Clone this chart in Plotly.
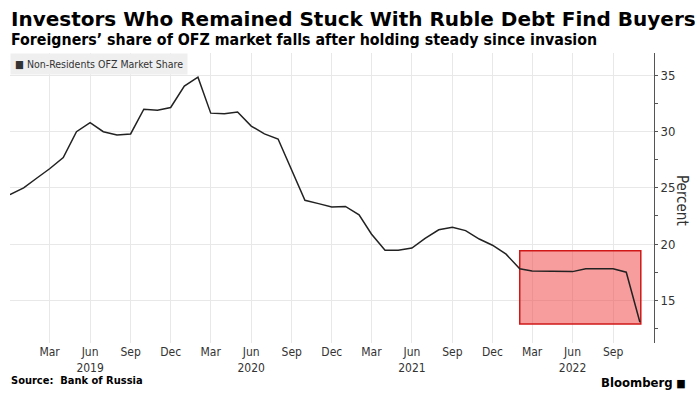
import plotly.graph_objects as go

# Monthly data, Dec 2018 .. Nov 2022 (month starts)
months = ["2018-12-01", "2019-01-01", "2019-02-01", "2019-03-01", "2019-04-01", "2019-05-01",
          "2019-06-01", "2019-07-01", "2019-08-01", "2019-09-01", "2019-10-01", "2019-11-01",
          "2019-12-01", "2020-01-01", "2020-02-01", "2020-03-01", "2020-04-01", "2020-05-01",
          "2020-06-01", "2020-07-01", "2020-08-01", "2020-09-01", "2020-10-01", "2020-11-01",
          "2020-12-01", "2021-01-01", "2021-02-01", "2021-03-01", "2021-04-01", "2021-05-01",
          "2021-06-01", "2021-07-01", "2021-08-01", "2021-09-01", "2021-10-01", "2021-11-01",
          "2021-12-01", "2022-01-01", "2022-02-01", "2022-03-01", "2022-04-01", "2022-05-01",
          "2022-06-01", "2022-07-01", "2022-08-01", "2022-09-01", "2022-10-01", "2022-11-01"]
share = [24.4, 25.0, 25.9, 26.7, 27.7, 30.0,
         30.8, 30.0, 29.7, 29.8, 32.0, 31.9,
         32.15, 34.05, 34.85, 31.65, 31.6, 31.75,
         30.5, 29.8, 29.35, 26.6, 23.9, 23.6,
         23.3, 23.35, 22.6, 20.9, 19.45, 19.45,
         19.65, 20.5, 21.27, 21.5, 21.2, 20.45,
         19.9, 19.1, 17.8, 17.6, 17.6, 17.6,
         17.55, 17.8, 17.8, 17.8, 17.5, 13.05]

tick_dates = ["2019-03-01", "2019-06-01", "2019-09-01", "2019-12-01",
              "2020-03-01", "2020-06-01", "2020-09-01", "2020-12-01",
              "2021-03-01", "2021-06-01", "2021-09-01", "2021-12-01",
              "2022-03-01", "2022-06-01", "2022-09-01"]
tick_labels = ["Mar", "Jun<br>2019", "Sep", "Dec",
               "Mar", "Jun<br>2020", "Sep", "Dec",
               "Mar", "Jun<br>2021", "Sep", "Dec",
               "Mar", "Jun<br>2022", "Sep"]

y_ticks = [15, 20, 25, 30, 35]

# Highlight box (post-invasion period)
box_x = ["2022-02-01", "2022-11-03"]
box_y = [12.9, 19.4]

series_name = "Non-Residents OFZ Market Share"

fig = go.Figure()
fig.add_trace(go.Scatter(x=months, y=share, mode="lines", name=series_name,
                         line=dict(color="#222222", width=1.5),
                         showlegend=False))

fig.add_shape(type="rect", xref="x", yref="y",
              x0=box_x[0], x1=box_x[1], y0=box_y[0], y1=box_y[1],
              fillcolor="rgba(242,60,60,0.5)",
              line=dict(color="#d01818", width=1.5), layer="between")

font_main = "DejaVu Sans Condensed, Liberation Sans, Arial, sans-serif"
font_title = "DejaVu Sans, Liberation Sans, Arial, sans-serif"

fig.update_layout(
    width=695, height=394,
    margin=dict(l=10, r=41, t=53, b=51),
    paper_bgcolor="white", plot_bgcolor="white",
    font=dict(family=font_main, color="#333333", size=12),
    showlegend=False,
    xaxis=dict(type="date", range=["2018-12-01", "2022-12-03"],
               tickvals=tick_dates, ticktext=tick_labels,
               showgrid=True, gridcolor="#e8e8e8", gridwidth=1,
               ticks="", showline=False, zeroline=False,
               tickfont=dict(size=12, color="#333333")),
    yaxis=dict(side="right", range=[11.2, 37],
               tickvals=y_ticks,
               showgrid=True, gridcolor="#e8e8e8", gridwidth=1,
               showline=True, linecolor="#555555", linewidth=1,
               ticks="outside", ticklen=3, tickcolor="#555555",
               minor=dict(dtick=2.5, ticks="outside", ticklen=3, tickcolor="#555555", showgrid=False),
               zeroline=False,
               tickfont=dict(size=13, color="#333333")),
)

# legend box
fig.add_annotation(text="■ " + series_name,
                   xref="paper", yref="paper", x=0, y=1,
                   xanchor="left", yanchor="top", showarrow=False,
                   bgcolor="#efefef", borderpad=4, align="left",
                   font=dict(size=10.5, color="#333333", family=font_main))

fig.add_annotation(text="<b>Investors Who Remained Stuck With Ruble Debt Find Buyers</b>",
                   xref="paper", yref="paper", x=0, y=1, xshift=-1, yshift=20,
                   xanchor="left", yanchor="bottom", showarrow=False,
                   font=dict(size=20, color="#000000", family=font_title))
fig.add_annotation(text="<b>Foreigners’ share of OFZ market falls after holding steady since invasion</b>",
                   xref="paper", yref="paper", x=0, y=1, xshift=-1, yshift=2,
                   xanchor="left", yanchor="bottom", showarrow=False,
                   font=dict(size=15.8, color="#000000", family=font_main))
fig.add_annotation(text="Percent", textangle=90,
                   xref="paper", yref="paper", x=1, y=0.5, xshift=28, yshift=-2,
                   xanchor="center", yanchor="middle", showarrow=False,
                   font=dict(size=15, color="#333333", family=font_main))
fig.add_annotation(text="<b>Source:  Bank of Russia</b>",
                   xref="paper", yref="paper", x=0, y=0, xshift=-1, yshift=-46,
                   xanchor="left", yanchor="bottom", showarrow=False,
                   font=dict(size=11, color="#000000", family=font_main))
fig.add_annotation(text="<b>Bloomberg</b> <span style='font-size:11px'>■</span>",
                   xref="paper", yref="paper", x=1, y=0, xshift=34, yshift=-49,
                   xanchor="right", yanchor="bottom", showarrow=False,
                   font=dict(size=13, color="#000000", family=font_main))

fig.write_html("out.html", config={"displayModeBar": False},
               post_script="document.body.style.margin='0';document.body.style.padding='0';")
